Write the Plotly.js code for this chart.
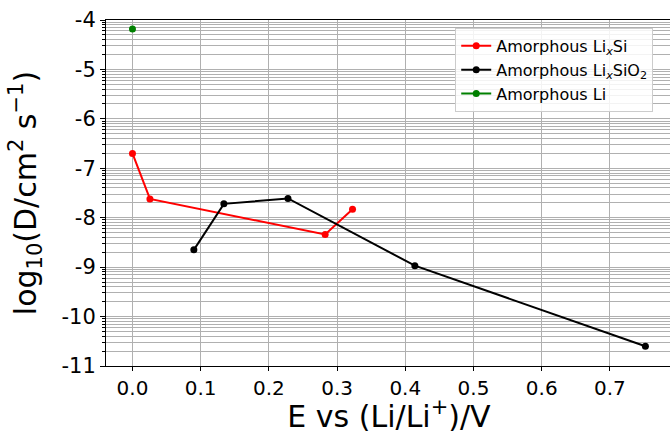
<!DOCTYPE html>
<html>
<head>
<meta charset="utf-8">
<script src="https://cdn.plot.ly/plotly-3.0.1.min.js"></script>
<style>html,body{margin:0;padding:0;overflow:hidden;background:#fff;}</style>
</head>
<body>
<div id="chart"></div>
<script>
// Data
const lixsiE = [0.0, 0.0256, 0.2825, 0.3226];
const lixsiLogD = [-6.70, -7.62, -8.34, -7.83];
const lixsio2E = [0.090, 0.134, 0.228, 0.414, 0.752];
const lixsio2LogD = [-8.65, -7.72, -7.61, -8.97, -10.60];
const liE = [0.0];
const liLogD = [-4.18];

const seriesNames = ['Amorphous Li<sub><i>x</i></sub>Si', 'Amorphous Li<sub><i>x</i></sub>SiO<sub>2</sub>', 'Amorphous Li'];
const xTickVals = [0.0, 0.1, 0.2, 0.3, 0.4, 0.5, 0.6, 0.7];
const xTickText = ['0.0', '0.1', '0.2', '0.3', '0.4', '0.5', '0.6', '0.7'];
const yTickVals = [-11, -10, -9, -8, -7, -6, -5, -4];
const yTickText = ['-11', '-10', '-9', '-8', '-7', '-6', '-5', '-4'];

// minor (log-style) grid positions inside each unit interval
const yMinor = [];
for (let n = -11; n < -4; n++) {
  for (let k = 2; k <= 9; k++) yMinor.push(n + Math.log10(k));
}

const font = 'DejaVu Sans, sans-serif';
const traces = [
  {x: lixsiE, y: lixsiLogD, name: seriesNames[0], mode: 'lines+markers',
   line: {color: '#ff0000', width: 2}, marker: {color: '#ff0000', size: 7}},
  {x: lixsio2E, y: lixsio2LogD, name: seriesNames[1], mode: 'lines+markers',
   line: {color: '#000000', width: 2}, marker: {color: '#000000', size: 7}},
  {x: liE, y: liLogD, name: seriesNames[2], mode: 'lines+markers',
   line: {color: '#008000', width: 2}, marker: {color: '#008000', size: 7}}
];

const layout = {
  width: 680, height: 434,
  margin: {l: 106, r: 8, t: 20, b: 68},
  paper_bgcolor: '#ffffff', plot_bgcolor: '#ffffff',
  font: {family: font, color: '#000000'},
  showlegend: true,
  legend: {x: 0.617, y: 0.977, xanchor: 'left', yanchor: 'top',
    bgcolor: 'rgba(255,255,255,0.85)', bordercolor: '#cccccc', borderwidth: 1,
    font: {family: font, size: 16, color: '#000000'}, tracegroupgap: 0},
  xaxis: {
    range: [-0.0388, 0.791],
    tickmode: 'array', tickvals: xTickVals, ticktext: xTickText,
    ticks: 'outside', ticklen: 4, tickcolor: '#000', tickwidth: 1,
    showline: true, linecolor: '#000', linewidth: 1, mirror: true,
    showgrid: true, gridcolor: '#b0b0b0', gridwidth: 1,
    zeroline: false,
    tickfont: {family: font, size: 20, color: '#000'},
    title: {text: 'E vs (Li/Li<sup>+</sup>)/V', font: {family: font, size: 30, color: '#000'}}
  },
  yaxis: {
    range: [-11, -4],
    tickmode: 'array', tickvals: yTickVals, ticktext: yTickText,
    ticks: 'outside', ticklen: 5, tickcolor: '#000', tickwidth: 1,
    showline: true, linecolor: '#000', linewidth: 1, mirror: true,
    showgrid: true, gridcolor: '#b0b0b0', gridwidth: 1,
    zeroline: false,
    tickfont: {family: font, size: 21, color: '#000'},
    minor: {tickmode: 'array', tickvals: yMinor, ticks: 'outside', ticklen: 3,
      tickcolor: '#000', showgrid: true, gridcolor: '#b0b0b0', gridwidth: 1},
    title: {text: 'log<sub>10</sub>(D/cm<sup>2</sup> s<sup>\u22121</sup>)', font: {family: font, size: 30, color: '#000'}}
  }
};

Plotly.newPlot('chart', traces, layout, {displayModeBar: false, staticPlot: true});
</script>
</body>
</html>
